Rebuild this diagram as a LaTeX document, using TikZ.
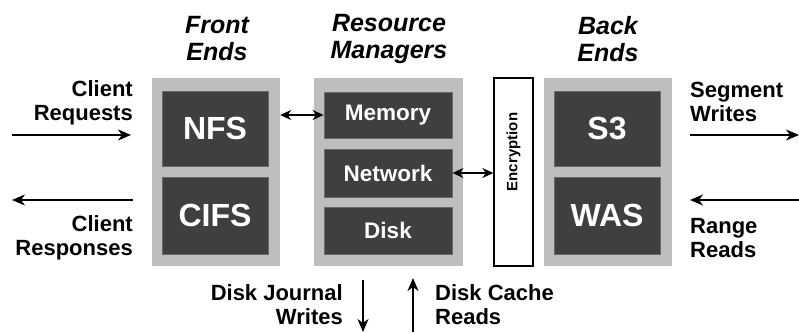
\documentclass[tikz,border=0pt]{standalone}
\usepackage{fontspec}
\setmainfont{Liberation Sans}
\usetikzlibrary{arrows.meta}
\definecolor{panel}{HTML}{BEBEBE}
\definecolor{darkfill}{HTML}{3F3F3F}
\definecolor{darkedge}{HTML}{6A6A6A}
\begin{document}
\begin{tikzpicture}[x=1pt,y=-1pt,
  panelbox/.style={fill=panel, draw=none, inner sep=0pt, minimum width=128pt, minimum height=188pt},
  darkbox/.style={fill=darkfill, draw=darkedge, line width=0.8pt, text=white, inner sep=0pt},
  bigtext/.style={font=\fontsize{32}{34}\selectfont\bfseries},
  midtext/.style={font=\fontsize{22.5}{24}\selectfont\bfseries},
  heading/.style={font=\fontsize{25}{27}\selectfont\bfseries\itshape, align=center, inner sep=0pt},
  lbl/.style={font=\fontsize{22}{24}\selectfont\bfseries, inner sep=0pt},
  conn/.style={line width=1.4pt, -{Stealth[length=13pt,width=11pt,inset=4pt]}},
  dconn/.style={line width=1.4pt, {Stealth[length=11pt,width=10pt,inset=3.5pt]}-{Stealth[length=11pt,width=10pt,inset=3.5pt]}}]
\useasboundingbox (0,0) rectangle (799,332);

% headings
\node[heading] (hfe) at (217,39) {Front\\Ends};
\node[heading] (hrm) at (389,39) {Resource\\Managers};
\node[heading] (hbe) at (608,39) {Back\\Ends};

% panels
\node[panelbox] (fe) at (216,172) {};
\node[panelbox, minimum width=149pt] (rm) at (388.5,172) {};
\node[panelbox] (be) at (608,172) {};

% front ends
\node[darkbox, bigtext, minimum width=106pt, minimum height=75pt] (nfs) at (215,128.5) {NFS};
\node[darkbox, bigtext, minimum width=106pt, minimum height=77pt] (cifs) at (215,215.5) {CIFS};

% resource managers
\node[darkbox, midtext, minimum width=128pt, minimum height=46pt] (mem) at (388,115) {Memory};
\node[darkbox, midtext, minimum width=128pt, minimum height=48pt] (net) at (388,173) {Network};
\node[darkbox, midtext, minimum width=128pt, minimum height=47pt] (disk) at (388,230.5) {Disk};

% encryption
\node[draw=black, line width=1.3pt, fill=white, minimum width=39pt, minimum height=188pt, inner sep=0pt] (enc) at (513.5,172) {};
\node[rotate=90, font=\fontsize{15}{16}\selectfont\bfseries, inner sep=0pt] (enctext) at (513.5,152) {Encryption};

% back ends
\node[darkbox, bigtext, minimum width=106pt, minimum height=75pt] (s3) at (607,128.5) {S3};
\node[darkbox, bigtext, minimum width=106pt, minimum height=77pt] (was) at (607,215.5) {WAS};

% side labels
\node[lbl, anchor=east, align=right] (creq) at (133,103) {Client\\Requests};
\node[lbl, anchor=east, align=right] (cresp) at (133,238) {Client\\Responses};
\node[lbl, anchor=west, align=left] (segw) at (690,102) {Segment\\Writes};
\node[lbl, anchor=west, align=left] (rngr) at (690,238) {Range\\Reads};
\node[lbl, anchor=east, align=right] (djw) at (343,305) {Disk Journal\\Writes};
\node[lbl, anchor=west, align=left] (dcr) at (435,305) {Disk Cache\\Reads};

% free ends
\coordinate (creqA) at (12,135);
\coordinate (creqB) at (131,135);
\coordinate (crespA) at (133,200);
\coordinate (crespB) at (12,200);
\coordinate (segA) at (690,135);
\coordinate (segB) at (799,135);
\coordinate (rngA) at (799,200);
\coordinate (rngB) at (690,200);
\coordinate (djA) at (363,280);
\coordinate (djB) at (363,332);
\coordinate (dcA) at (413,332);
\coordinate (dcB) at (413,278);

% connectors
\draw[conn] (creqA) -- (creqB);
\draw[conn] (crespA) -- (crespB);
\draw[conn] (segA) -- (segB);
\draw[conn] (rngA) -- (rngB);
\draw[conn] (djA) -- (djB);
\draw[conn] (dcA) -- (dcB);
\draw[dconn] (fe.east |- mem.west) -- (mem.west);
\draw[dconn] (net.east) -- (enc.west |- net.east);
\end{tikzpicture}
\end{document}
